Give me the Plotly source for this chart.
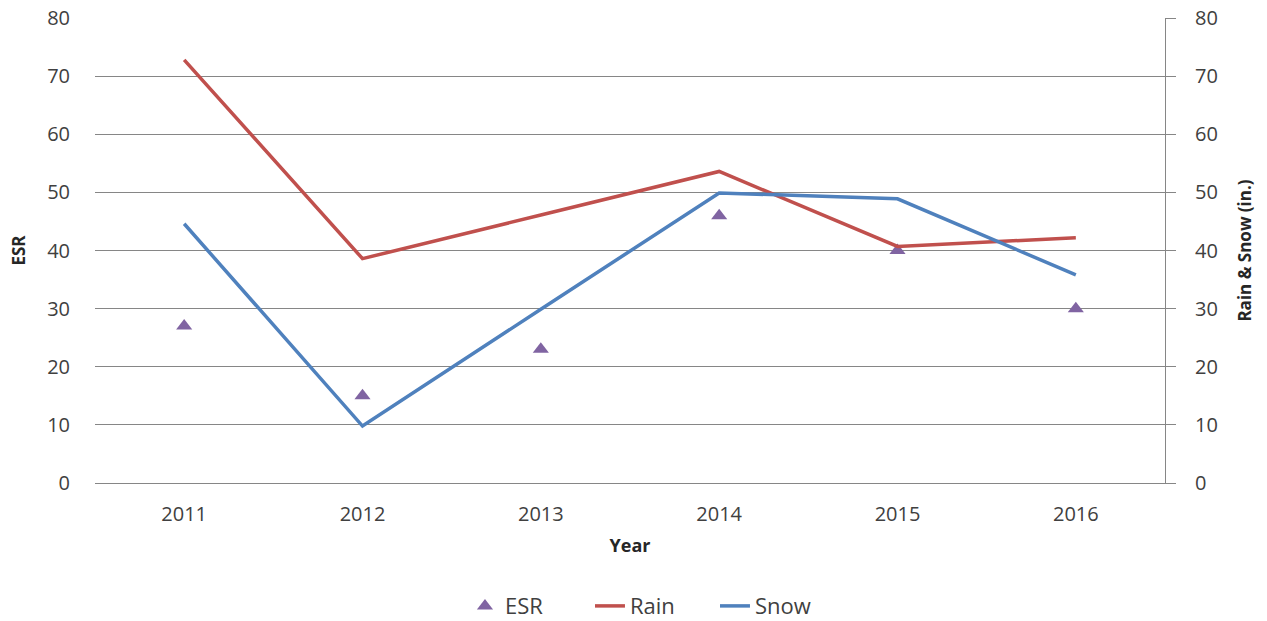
import plotly.graph_objects as go

years = ["2011", "2012", "2013", "2014", "2015", "2016"]
esr = [27, 15, 23, 46, 40, 30]
rain = [72.8, 38.6, 46.1, 53.6, 40.7, 42.2]
snow = [44.6, 9.8, 29.9, 49.9, 48.9, 35.8]
tick_vals = [0, 10, 20, 30, 40, 50, 60, 70, 80]

FONT = "Open Sans"
fig = go.Figure()
fig.add_trace(go.Scatter(x=years, y=esr, mode="markers", name="ESR",
                         marker=dict(symbol="triangle-up", size=14, color="#8064A2"),
                         yaxis="y"))
fig.add_trace(go.Scatter(x=years, y=rain, mode="lines", name="Rain",
                         line=dict(color="#C0504D", width=3.5), yaxis="y2"))
fig.add_trace(go.Scatter(x=years, y=snow, mode="lines", name="Snow",
                         line=dict(color="#4F81BD", width=3.5), yaxis="y2"))

fig.update_layout(
    width=1267, height=621,
    margin=dict(l=95, r=102, t=18, b=138),
    paper_bgcolor="white", plot_bgcolor="white",
    font=dict(family=FONT, size=20, color="#404040"),
    xaxis=dict(type="category", range=[-0.5, 5.5], showgrid=False, automargin=False,
               showline=True, linecolor="#868686", linewidth=1,
               ticks="", ticklabelstandoff=13, tickfont=dict(size=20, color="#404040"),
               title=dict(text="<b>Year</b>", font=dict(size=18, color="#262626"), standoff=13)),
    yaxis=dict(range=[0, 80], tickvals=tick_vals, showgrid=True, automargin=False,
               gridcolor="#868686", gridwidth=1, zeroline=False, showline=False,
               ticks="", ticklabelstandoff=24,
               tickfont=dict(size=20, color="#404040"),
               title=dict(text="<b>ESR</b>", font=dict(size=17, color="#262626"), standoff=17)),
    yaxis2=dict(range=[0, 80], tickvals=tick_vals, overlaying="y", side="right",
                showgrid=False, zeroline=False, showline=True, linecolor="#868686",
                automargin=False,
                ticks="outside", ticklen=10, tickcolor="#868686", ticklabelstandoff=15,
                tickfont=dict(size=20, color="#404040"),
                title=dict(text="<b>Rain & Snow (in.)</b>", font=dict(size=17, color="#262626"), standoff=22)),
    legend=dict(orientation="h", x=0.521, xanchor="center", xref="paper",
                yref="container", y=0.024, yanchor="middle",
                entrywidth=80, entrywidthmode="pixels",
                font=dict(size=22, color="#404040"), traceorder="normal"),
    showlegend=True,
)

fig.write_html("out.html")
